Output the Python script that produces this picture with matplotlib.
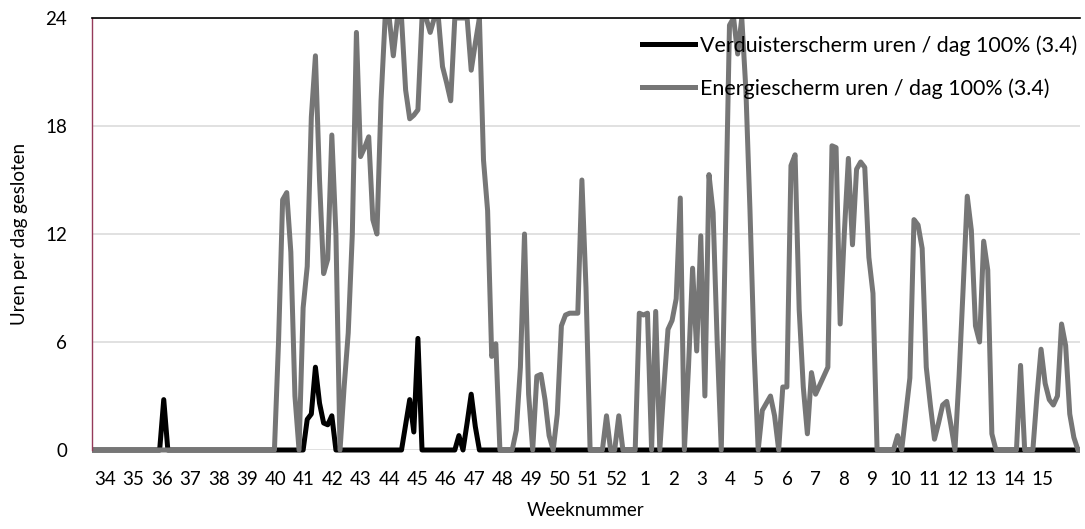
import matplotlib.pyplot as plt
import numpy as np
from matplotlib.transforms import Bbox, TransformedBbox

# week labels on the x-axis
weeks = [str(w) for w in list(range(34, 53)) + list(range(1, 16))]

# Energiescherm: hours per day closed, one value per day
energie = [
    0, 0, 0, 0, 0, 0, 0, 0, 0, 0,
    0, 0, 0, 0, 0, 0, 0, 0, 0, 0,
    0, 0, 0, 0, 0, 0, 0, 0, 0, 0,
    0, 0, 0, 0, 0, 0, 0, 0, 0, 0,
    0, 0, 0, 0, 0, 6, 13.9, 14.3, 11.0, 3.0,
    0, 7.9, 10.2, 18.5, 21.9, 15.0, 9.8, 10.6, 17.5, 12.0,
    0, 3.5, 6.5, 12.0, 23.2, 16.3, 16.8, 17.4, 12.8, 12.0,
    19.4, 24, 24, 21.9, 24, 24, 20.0, 18.4, 18.6, 18.9,
    24, 24, 23.2, 24, 24, 21.3, 20.4, 19.4, 24, 24,
    24, 24, 21.1, 22.6, 24, 16.1, 13.3, 5.2, 5.9, 0,
    0, 0, 0, 1.1, 4.6, 12.0, 3.1, 0, 4.1, 4.2,
    2.8, 0.8, 0, 2.0, 6.9, 7.5, 7.6, 7.6, 7.6, 15.0,
    9.0, 0, 0, 0, 0, 1.9, 0, 0, 1.9, 0,
    0, 0, 0, 7.6, 7.5, 7.6, 0, 7.7, 0, 3.5,
    6.7, 7.2, 8.4, 14.0, 0, 4.6, 10.1, 5.5, 11.9, 3.0,
    15.3, 13.2, 6.0, 0, 12.0, 23.6, 24, 22.0, 24, 20.0,
    13.3, 5.5, 0, 2.2, 2.6, 3.0, 1.9, 0, 3.5, 3.5,
    15.8, 16.4, 7.8, 3.5, 0.9, 4.3, 3.1, 3.6, 4.1, 4.6,
    16.9, 16.8, 7.0, 12.0, 16.2, 11.4, 15.6, 16.0, 15.7, 10.7,
    8.7, 0, 0, 0, 0, 0, 0.8, 0, 2.0, 4.0,
    12.8, 12.5, 11.2, 4.6, 2.5, 0.6, 1.5, 2.5, 2.7, 1.4,
    0, 4.1, 9.0, 14.1, 12.2, 6.9, 6.0, 11.6, 10.0, 0.9,
    0, 0, 0, 0, 0, 0, 4.7, 0, 0, 0,
    3.0, 5.6, 3.7, 2.8, 2.5, 3.0, 7.0, 5.8, 2.0, 0.7,
    0,
]

# Verduisterscherm: zero except on these days
verduister_dag = [17, 52, 53, 54, 55, 56, 57, 58, 76, 77, 78, 79, 89, 91, 92, 93]
verduister_uren = [2.8, 1.7, 2.0, 4.6, 2.6, 1.5, 1.4, 1.9, 1.4, 2.8, 1.0, 6.2, 0.8, 1.5, 3.1, 1.3]

plt.rcParams['font.family'] = ['Lato', 'DejaVu Sans']
plt.rcParams['font.size'] = 13.5

n = len(energie)
dagen = np.arange(n)
verduister = np.zeros(n)
verduister[verduister_dag] = verduister_uren

fig = plt.figure(figsize=(10.85, 5.29), dpi=100)
ax = fig.add_axes([92 / 1085, 79 / 529, 988 / 1085, 432 / 529])

l1, = ax.plot(dagen, verduister, color='black', lw=3.6, solid_joinstyle='round',
              label='Verduisterscherm uren / dag 100% (3.4)')
l2, = ax.plot(dagen, energie, color='#767676', lw=3.6, solid_joinstyle='round',
              label='Energiescherm uren / dag 100% (3.4)')
# let the lines at 0 show their full width below the axis
clip = TransformedBbox(Bbox([[0, -0.03], [1, 1]]), ax.transAxes)
for line in (l1, l2):
    line.set_clip_box(clip)

ax.set_xlim(-0.5, n - 0.5)
ax.set_ylim(0, 24)
ax.set_yticks([0, 6, 12, 18, 24])
ax.yaxis.grid(True, color='#d9d9d9', lw=1.1)
ax.set_axisbelow(True)
ax.set_xticks(2.7 + 6.93 * np.arange(len(weeks)))
ax.set_xticklabels(weeks)
ax.tick_params(length=0)
ax.tick_params(axis='x', pad=15)
ax.tick_params(axis='y', pad=18)

ax.spines['right'].set_visible(False)
ax.spines['bottom'].set_visible(False)
ax.spines['top'].set_color('black')
ax.spines['top'].set_linewidth(1.2)
ax.spines['left'].set_color('#953a5a')
ax.spines['left'].set_linewidth(1.0)

ax.set_xlabel('Weeknummer', labelpad=10)
ax.set_ylabel('Uren per dag gesloten', labelpad=12)

ax.legend(loc='upper left', bbox_to_anchor=(642 / 1085, 1 - 35 / 529),
          bbox_transform=fig.transFigure, frameon=False, fontsize=15.4,
          handlelength=2.48, handletextpad=0.22, labelspacing=1.05,
          borderpad=0, borderaxespad=0)

fig.savefig('out.png', dpi=100)
